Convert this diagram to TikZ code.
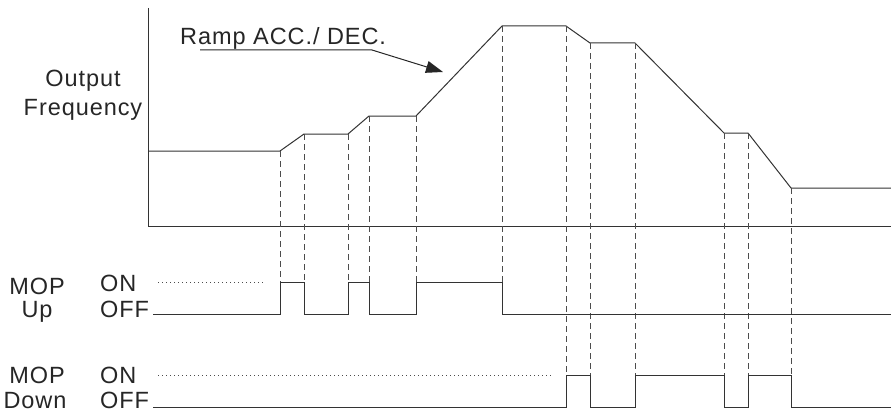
\documentclass[tikz,border=0pt]{standalone}
\usepackage{fontspec}
\setmainfont{Liberation Sans}
\newfontfamily\lblfont[LetterSpace=4]{Liberation Sans}
\usetikzlibrary{arrows.meta}

\begin{document}
\begin{tikzpicture}[
  x=1pt, y=-1pt,
  sig/.style={line width=1pt, color=black!80},
  guide/.style={line width=0.9pt, color=black!70, dash pattern=on 6pt off 4pt},
  level/.style={line width=0.8pt, color=black!70, dash pattern=on 1pt off 3pt},
  lbl/.style={font=\lblfont\fontsize{23.5}{26}\selectfont, inner sep=0pt, text=black!85},
  ptr/.style={line width=1pt, color=black!85, -{Triangle[length=17pt, width=12pt]}}
]
\useasboundingbox (0,0) rectangle (891,412);

%% ===== labels =====
\node[lbl, anchor=base west] (ramp) at (180,45) {Ramp ACC./ DEC.};
\node[lbl, anchor=base] (out) at (83,86) {Output};
\node[lbl, anchor=base] (freq) at (83,115) {Frequency};
\node[lbl, anchor=base] (mopu) at (37,294) {MOP};
\node[lbl, anchor=base] (up) at (37,317) {Up};
\node[lbl, anchor=base west] (onu) at (100,291) {ON};
\node[lbl, anchor=base west] (offu) at (100,317) {OFF};
\node[lbl, anchor=base] (mopd) at (37,383) {MOP};
\node[lbl, anchor=base] (down) at (35,408) {Down};
\node[lbl, anchor=base west] (ond) at (100,383) {ON};
\node[lbl, anchor=base west] (offd) at (100,408) {OFF};

\coordinate (rtail) at (200,50);
\coordinate (rbend) at (372,50);
\coordinate (rhead) at (443,72);
\draw[ptr] (rtail) -- (rbend) -- (rhead);

%% ===== axes and output frequency =====
\draw[sig] (148,8) -- (148,226) -- (891,226);
\draw[sig] (148,151) -- (280,151) -- (304,134) -- (348,134) -- (369,116) -- (416,116)
  -- (502,26) -- (566,26) -- (590,43) -- (635,43) -- (724,133) -- (748,133)
  -- (791,188) -- (891,188);

%% ===== guide lines =====
\foreach \x/\y in {280/151, 304/134, 348/134, 369/116, 416/116, 502/26}
  \draw[guide] (\x,\y) -- (\x,282);
\foreach \x/\y in {566/26, 590/43, 635/43, 724/133, 748/133, 791/188}
  \draw[guide] (\x,\y) -- (\x,375);

%% ===== MOP up / MOP down =====
\draw[level] (158,282) -- (266,282);
\draw[sig] (153,314) -- (280,314) -- (280,282) -- (304,282) -- (304,314)
  -- (348,314) -- (348,282) -- (369,282) -- (369,314) -- (416,314) -- (416,282)
  -- (502,282) -- (502,314) -- (891,314);

\draw[level] (158,375) -- (552,375);
\draw[sig] (153,407) -- (566,407) -- (566,375) -- (590,375) -- (590,407)
  -- (635,407) -- (635,375) -- (724,375) -- (724,407) -- (748,407) -- (748,375)
  -- (791,375) -- (791,407) -- (891,407);

\end{tikzpicture}
\end{document}
